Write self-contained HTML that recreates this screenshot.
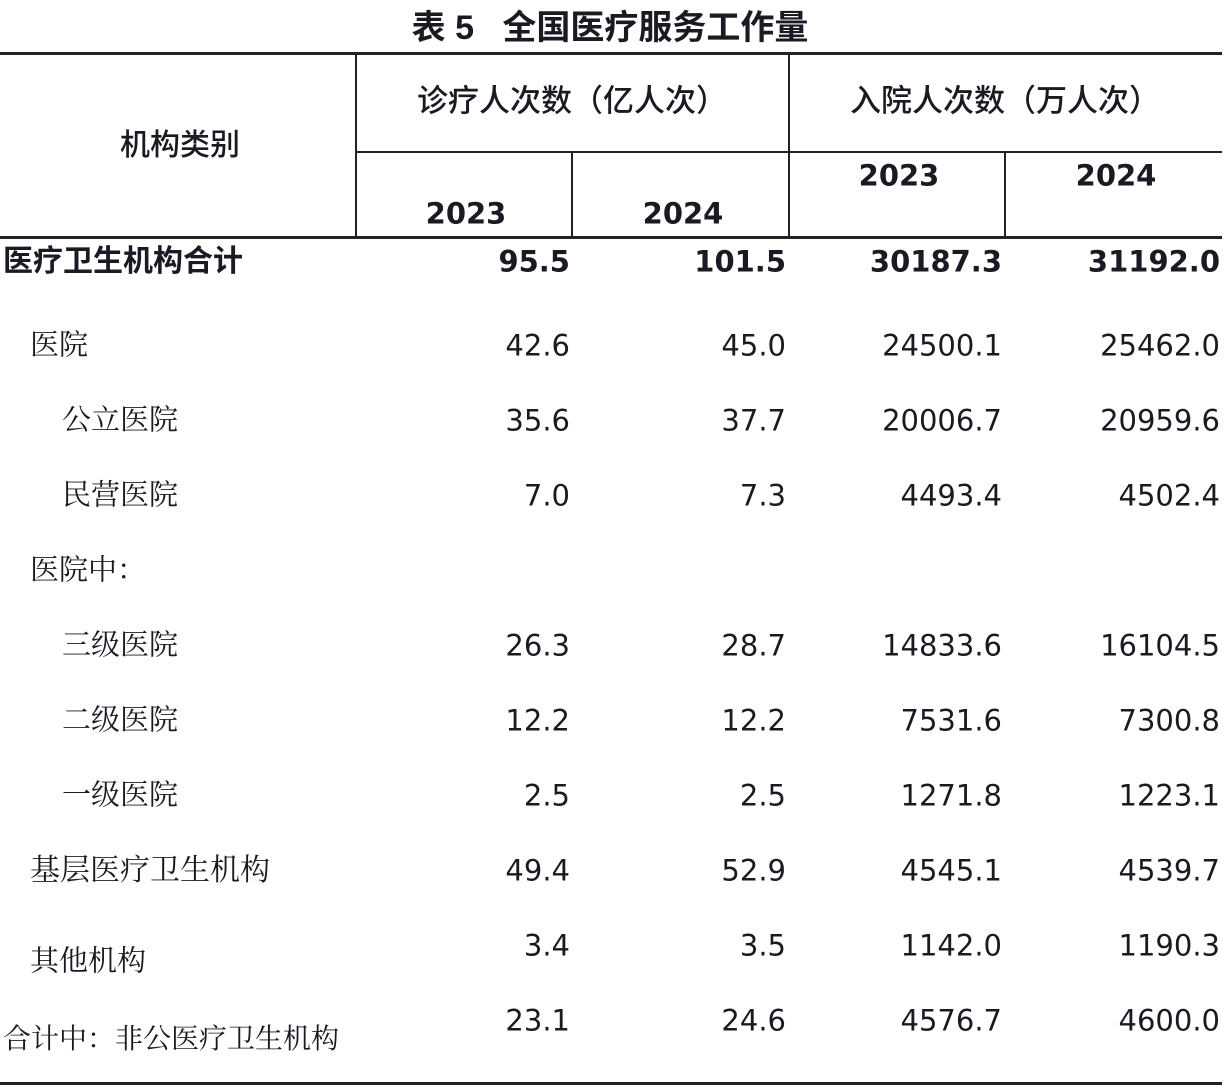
<!DOCTYPE html>
<html><head><meta charset="utf-8"><style>
html,body{margin:0;padding:0;background:#fff;}
body{width:1226px;height:1090px;position:relative;overflow:hidden;color:#1a1a22;}
.h{position:absolute;background:#222;}
.v{position:absolute;background:#222;width:2px;}
.t{position:absolute;white-space:nowrap;line-height:1;transform:translateY(-50%);}
.n{font-family:"DejaVu Sans","Liberation Sans",sans-serif;font-size:29px;text-align:right;width:200px;}
.b{font-weight:bold;}
.l{font-family:"Liberation Serif","Noto Serif CJK SC",serif;font-size:29px;}
.hd{font-family:"Liberation Sans","Noto Sans CJK SC",sans-serif;font-size:30px;font-weight:500;}
.c{transform:translate(-50%,-50%);}
</style></head><body>
<div class="t c hd" style="left:610px;top:28px;font-size:34px;font-weight:bold;">表 5&nbsp;&nbsp;&nbsp;全国医疗服务工作量</div>
<div class="h" style="left:0;top:52px;width:1222px;height:3px;"></div>
<div class="h" style="left:357px;top:151px;width:865px;height:2px;"></div>
<div class="h" style="left:0;top:236px;width:1222px;height:3px;"></div>
<div class="h" style="left:0;top:1082px;width:1222px;height:3px;"></div>
<div class="v" style="left:355px;top:54px;height:183px;"></div>
<div class="v" style="left:788px;top:54px;height:183px;"></div>
<div class="v" style="left:571px;top:152px;height:85px;"></div>
<div class="v" style="left:1004px;top:152px;height:85px;"></div>
<div class="t c hd" style="left:180px;top:146px;">机构类别</div>
<div class="t c hd" style="left:572px;top:101px;font-size:31px;">诊疗人次数（亿人次）</div>
<div class="t c hd" style="left:1005px;top:101px;font-size:31px;">入院人次数（万人次）</div>
<div class="t c n b" style="left:466px;top:214px;width:auto;">2023</div>
<div class="t c n b" style="left:683px;top:214px;width:auto;">2024</div>
<div class="t c n b" style="left:899px;top:176px;width:auto;">2023</div>
<div class="t c n b" style="left:1116px;top:176px;width:auto;">2024</div>

<div class="t hd" style="left:3px;top:262px;font-weight:bold;">医疗卫生机构合计</div>
<div class="t n b" style="left:370px;top:262px;">95.5</div>
<div class="t n b" style="left:586px;top:262px;">101.5</div>
<div class="t n b" style="left:802px;top:262px;">30187.3</div>
<div class="t n b" style="left:1020px;top:262px;">31192.0</div>

<div class="t l" style="left:30px;top:346px;">医院</div>
<div class="t n" style="left:370px;top:346px;">42.6</div><div class="t n" style="left:586px;top:346px;">45.0</div><div class="t n" style="left:802px;top:346px;">24500.1</div><div class="t n" style="left:1020px;top:346px;">25462.0</div>

<div class="t l" style="left:62px;top:421px;">公立医院</div>
<div class="t n" style="left:370px;top:421px;">35.6</div><div class="t n" style="left:586px;top:421px;">37.7</div><div class="t n" style="left:802px;top:421px;">20006.7</div><div class="t n" style="left:1020px;top:421px;">20959.6</div>

<div class="t l" style="left:62px;top:496px;">民营医院</div>
<div class="t n" style="left:370px;top:496px;">7.0</div><div class="t n" style="left:586px;top:496px;">7.3</div><div class="t n" style="left:802px;top:496px;">4493.4</div><div class="t n" style="left:1020px;top:496px;">4502.4</div>

<div class="t l" style="left:30px;top:571px;">医院中：</div>

<div class="t l" style="left:62px;top:646px;">三级医院</div>
<div class="t n" style="left:370px;top:646px;">26.3</div><div class="t n" style="left:586px;top:646px;">28.7</div><div class="t n" style="left:802px;top:646px;">14833.6</div><div class="t n" style="left:1020px;top:646px;">16104.5</div>

<div class="t l" style="left:62px;top:721px;">二级医院</div>
<div class="t n" style="left:370px;top:721px;">12.2</div><div class="t n" style="left:586px;top:721px;">12.2</div><div class="t n" style="left:802px;top:721px;">7531.6</div><div class="t n" style="left:1020px;top:721px;">7300.8</div>

<div class="t l" style="left:62px;top:796px;">一级医院</div>
<div class="t n" style="left:370px;top:796px;">2.5</div><div class="t n" style="left:586px;top:796px;">2.5</div><div class="t n" style="left:802px;top:796px;">1271.8</div><div class="t n" style="left:1020px;top:796px;">1223.1</div>

<div class="t l" style="left:30px;top:871px;font-size:30px;">基层医疗卫生机构</div>
<div class="t n" style="left:370px;top:871px;">49.4</div><div class="t n" style="left:586px;top:871px;">52.9</div><div class="t n" style="left:802px;top:871px;">4545.1</div><div class="t n" style="left:1020px;top:871px;">4539.7</div>

<div class="t l" style="left:30px;top:962px;">其他机构</div>
<div class="t n" style="left:370px;top:946px;">3.4</div><div class="t n" style="left:586px;top:946px;">3.5</div><div class="t n" style="left:802px;top:946px;">1142.0</div><div class="t n" style="left:1020px;top:946px;">1190.3</div>

<div class="t l" style="left:3px;top:1040px;font-size:28px;">合计中：非公医疗卫生机构</div>
<div class="t n" style="left:370px;top:1021px;">23.1</div><div class="t n" style="left:586px;top:1021px;">24.6</div><div class="t n" style="left:802px;top:1021px;">4576.7</div><div class="t n" style="left:1020px;top:1021px;">4600.0</div>
</body></html>
